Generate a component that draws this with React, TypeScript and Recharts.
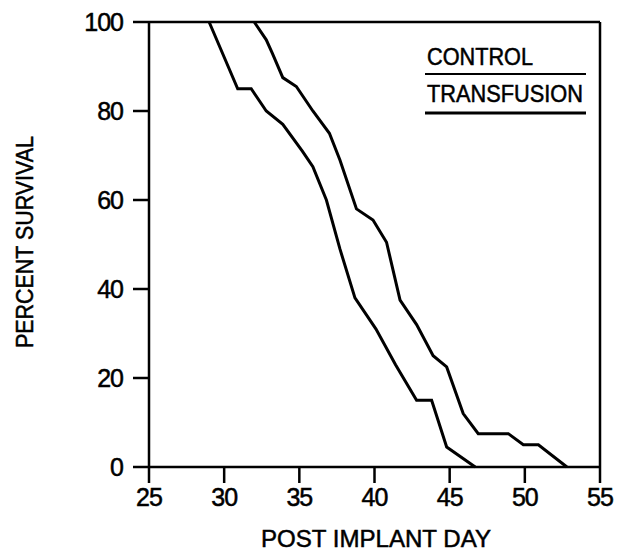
import React from 'react';
import { LineChart, Line, XAxis, YAxis, ReferenceLine, Label } from 'recharts';

// survival curves (day after implant, % surviving)
const controlDays = [29, 30.9, 31.8, 32.8, 33.9, 35.2, 35.9, 36.8, 37.7, 38.7, 40.1, 41.4, 42.8, 43.8, 44.8, 46.7];
const controlSurvival = [100, 85, 85, 80, 77, 71, 67.5, 60, 49, 38, 31, 23, 15, 15, 4.5, 0];
const transfusionDays = [32, 32.8, 33.2, 33.9, 34.8, 35.9, 37, 37.7, 38.8, 39.9, 40.8, 41.7, 42.8, 43.9, 44.8, 45.9, 46.9, 48.9, 49.9, 50.9, 52.8];
const transfusionSurvival = [100, 96, 93, 87.5, 85.5, 80, 75, 69, 58, 55.5, 50.5, 37.5, 32, 25, 22.5, 12, 7.5, 7.5, 5, 5, 0];
const dayTicks = [25, 30, 35, 40, 45, 50, 55];
const survivalTicks = [0, 20, 40, 60, 80, 100];
const seriesNames = ['CONTROL', 'TRANSFUSION'];

const controlData = controlDays.map((day, i) => ({ day, survival: controlSurvival[i] }));
const transfusionData = transfusionDays.map((day, i) => ({ day, survival: transfusionSurvival[i] }));

const FONT = '"Liberation Sans", Arial, sans-serif';
const tickStyle = { fill: '#000', fontSize: 25, fontFamily: FONT, letterSpacing: -1, stroke: '#000', strokeWidth: 0.5 };
const textProps = { fill: '#000', stroke: '#000', strokeWidth: 0.5, fontFamily: FONT, lengthAdjust: 'spacingAndGlyphs' as const };

// legend drawn as plain underlined labels, like the original figure
const LegendBox: React.FC = () => (
    <svg width={617} height={551} style={{ position: 'absolute', left: 0, top: 0, pointerEvents: 'none' }}>
        <text x={427} y={65} fontSize={23} textLength={106} {...textProps}>{seriesNames[0]}</text>
        <line x1={425} x2={586} y1={74} y2={74} stroke="#000" strokeWidth={2} />
        <text x={427} y={102} fontSize={23} textLength={156} {...textProps}>{seriesNames[1]}</text>
        <line x1={425} x2={586} y1={113} y2={113} stroke="#000" strokeWidth={3} />
    </svg>
);

const YTitle: React.FC<any> = () => (
    <text x={33} y={242} transform="rotate(-90 33 242)" textAnchor="middle" fontSize={24} textLength={212} {...textProps}>
        PERCENT SURVIVAL
    </text>
);

const XTitle: React.FC<any> = () => (
    <text x={376} y={547} textAnchor="middle" fontSize={24} textLength={230} {...textProps}>
        POST IMPLANT DAY
    </text>
);

const App: React.FC = () => {
    const axisStroke = { stroke: '#000', strokeWidth: 2.5 };
    return (
        <div style={{ position: 'absolute', left: 0, top: 0, width: 617, height: 551, background: '#fff' }}>
            <LineChart width={617} height={551} margin={{ top: 22, right: 17, left: 0, bottom: 0 }}>
                <XAxis
                    type="number"
                    dataKey="day"
                    domain={[25, 55]}
                    ticks={dayTicks}
                    height={84}
                    tickSize={16}
                    tickMargin={5}
                    axisLine={axisStroke}
                    tickLine={axisStroke}
                    tick={tickStyle}
                    allowDataOverflow
                >
                    <Label content={<XTitle />} />
                </XAxis>
                <YAxis
                    type="number"
                    dataKey="survival"
                    domain={[0, 100]}
                    ticks={survivalTicks}
                    width={149}
                    tickSize={16}
                    tickMargin={10}
                    axisLine={axisStroke}
                    tickLine={axisStroke}
                    tick={tickStyle}
                >
                    <Label content={<YTitle />} />
                </YAxis>
                <ReferenceLine y={100} stroke="#000" strokeWidth={2.5} />
                <ReferenceLine x={55} stroke="#000" strokeWidth={2.5} />
                <Line data={controlData} dataKey="survival" name="CONTROL" type="linear" stroke="#000" strokeWidth={3} dot={false} isAnimationActive={false} />
                <Line data={transfusionData} dataKey="survival" name="TRANSFUSION" type="linear" stroke="#000" strokeWidth={3} dot={false} isAnimationActive={false} />
            </LineChart>
            <LegendBox />
        </div>
    );
};

export default App;
